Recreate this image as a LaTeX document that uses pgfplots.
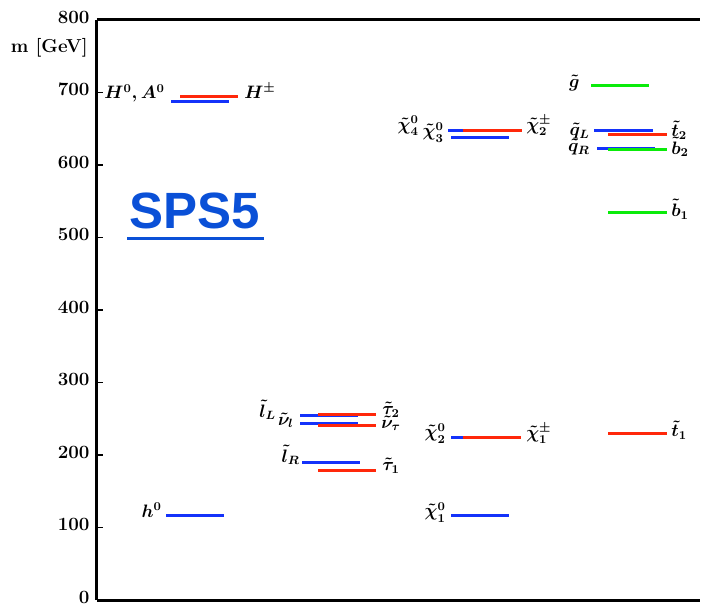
\documentclass[border=0pt]{standalone}
\usepackage{pgfplots}
\pgfplotsset{compat=1.18}
\usepackage{fontspec}
\newfontfamily\arialfont{Liberation Sans}
\definecolor{lvlblue}{RGB}{20,50,250}
\definecolor{lvlred}{RGB}{255,40,10}
\definecolor{lvlgreen}{RGB}{10,235,10}
\definecolor{spsblue}{RGB}{10,80,215}
\begin{document}
\begin{tikzpicture}
\begin{axis}[
  scale only axis, width=402pt, height=386.67pt,
  xmin=97, xmax=700, ymin=0, ymax=800,
  axis x line*=bottom, axis y line*=left,
  axis line style={-, line width=2pt, black},
  xtick=\empty,
  ytick={0,100,200,300,400,500,600,700,800},
  yticklabels={\textbf{0},\textbf{100},\textbf{200},\textbf{300},\textbf{400},\textbf{500},\textbf{600},\textbf{700},\textbf{800}},
  yticklabel style={font=\fontsize{12.5}{14}\selectfont, yshift=2pt, xshift=-1.5pt},
  tick align=inside, major tick length=4pt,
  tick style={line width=1.2pt, black},
  clip=false,
  every axis plot/.append style={line width=2pt, forget plot},
]
% invisible frame for picture proportions
\path (axis cs:0,-4.14) rectangle (axis cs:706,827.6);
\draw[line width=2pt, black] (axis cs:97,800) -- (axis cs:700,800);
% Higgs
\addplot[lvlblue] coordinates {(166,117.2) (224,117.2)};
\addplot[lvlblue] coordinates {(171,688) (229,688)};
\addplot[lvlred] coordinates {(180,694) (238,694)};
% sleptons
\addplot[lvlblue] coordinates {(300,255) (358,255)};
\addplot[lvlblue] coordinates {(300,243) (358,243)};
\addplot[lvlblue] coordinates {(302,189) (360,189)};
\addplot[lvlred] coordinates {(318,256.5) (376,256.5)};
\addplot[lvlred] coordinates {(318,241) (376,241)};
\addplot[lvlred] coordinates {(318,179) (376,179)};
% gauginos
\addplot[lvlblue] coordinates {(451,117) (509,117)};
\addplot[lvlblue] coordinates {(451,224) (509,224)};
\addplot[lvlblue] coordinates {(451,637.7) (509,637.7)};
\addplot[lvlblue] coordinates {(448,648) (506,648)};
\addplot[lvlred] coordinates {(463,224) (521,224)};
\addplot[lvlred] coordinates {(463,648) (522,648)};
% squarks, gluino
\addplot[lvlblue] coordinates {(594,647) (653,647)};
\addplot[lvlblue] coordinates {(597,623.4) (655,623.4)};
\addplot[lvlred] coordinates {(608,642) (667,642)};
\addplot[lvlred] coordinates {(608,230) (667,230)};
\addplot[lvlgreen] coordinates {(591,709) (649,709)};
\addplot[lvlgreen] coordinates {(608,621.6) (667,621.6)};
\addplot[lvlgreen] coordinates {(608,534.7) (667,534.7)};
% labels
\node[anchor=east, font=\fontsize{12.5}{14}\selectfont\bfseries, inner sep=0pt] at (axis cs:88,762) {m [GeV]};
\begin{scope}[every node/.style={font=\fontsize{12}{14}\selectfont\boldmath, inner sep=0pt}]
\node[anchor=east] at (axis cs:162,124) {$h^0$};
\node[anchor=east] at (axis cs:165,699) {$H^0, A^0$};
\node[anchor=west] at (axis cs:244,702) {$H^\pm$};
\node[anchor=west] at (axis cs:259,262) {$\tilde{l}_L$};
\node[anchor=east] at (axis cs:294,248) {$\tilde{\nu}_l$};
\node[anchor=east] at (axis cs:300,200) {$\tilde{l}_R$};
\node[anchor=west] at (axis cs:382,262) {$\tilde{\tau}_2$};
\node[anchor=west] at (axis cs:381,244) {$\tilde{\nu}_\tau$};
\node[anchor=west] at (axis cs:382,185) {$\tilde{\tau}_1$};
\node[anchor=east] at (axis cs:446,230) {$\tilde{\chi}^0_2$};
\node[anchor=west] at (axis cs:526,229) {$\tilde{\chi}^\pm_1$};
\node[anchor=east] at (axis cs:446,121) {$\tilde{\chi}^0_1$};
\node[anchor=east] at (axis cs:419,654) {$\tilde{\chi}^0_4$};
\node[anchor=east] at (axis cs:444,645) {$\tilde{\chi}^0_3$};
\node[anchor=west] at (axis cs:526,654) {$\tilde{\chi}^\pm_2$};
\node[anchor=east] at (axis cs:580,713) {$\tilde{g}$};
\node[anchor=east] at (axis cs:590,647) {$\tilde{q}_L$};
\node[anchor=east] at (axis cs:590,625) {$\tilde{q}_R$};
\node[anchor=west] at (axis cs:671,648) {$\tilde{t}_2$};
\node[anchor=west] at (axis cs:671,625) {$\tilde{b}_2$};
\node[anchor=west] at (axis cs:671,539) {$\tilde{b}_1$};
\node[anchor=west] at (axis cs:671,234) {$\tilde{t}_1$};
\end{scope}
\node[anchor=base, text=spsblue, font=\arialfont\bfseries\fontsize{34}{38}\selectfont, inner sep=0pt] at (axis cs:195,513) {SPS5};
\draw[spsblue, line width=2pt] (axis cs:127,498) -- (axis cs:264,498);
\end{axis}
\end{tikzpicture}
\end{document}
